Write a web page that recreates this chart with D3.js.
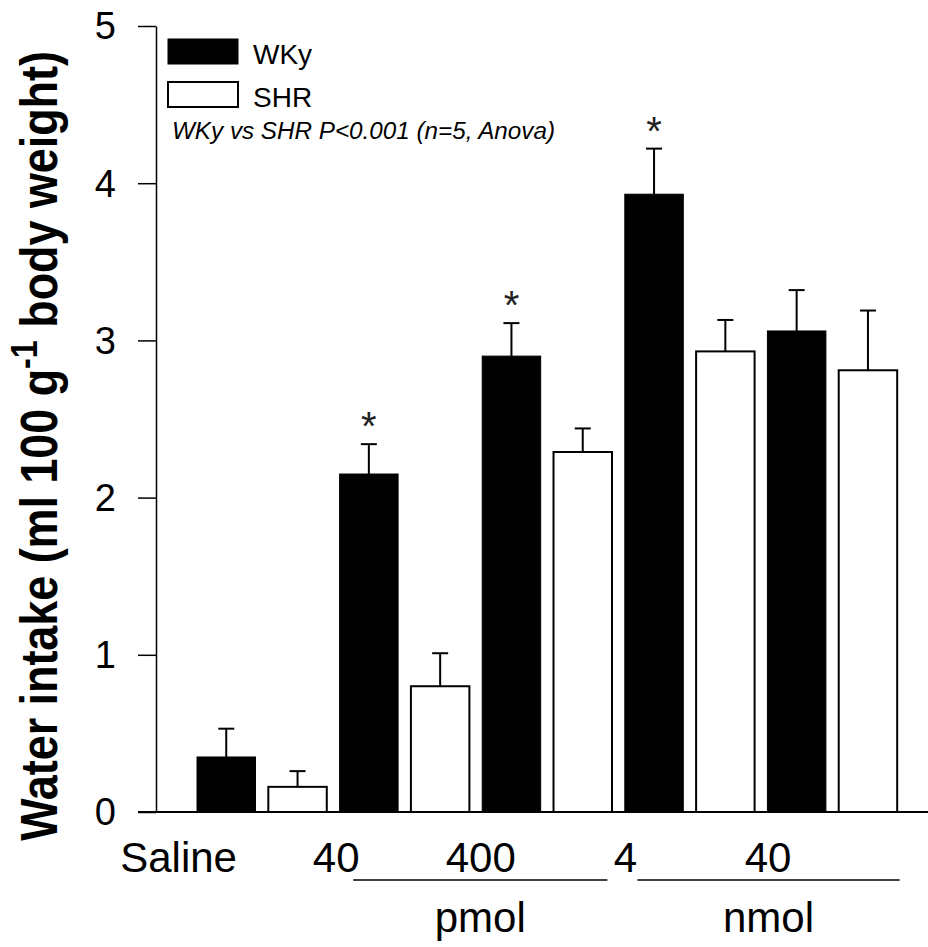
<!DOCTYPE html>
<html>
<head>
<meta charset="utf-8">
<script src="https://cdn.jsdelivr.net/npm/d3@7"></script>
<style>
  html, body { margin: 0; padding: 0; background: #fff; }
  svg { display: block; font-family: "Liberation Sans", Arial, sans-serif; }
</style>
</head>
<body>
<svg id="chart" width="928" height="947"></svg>
<script>
// ---- data ----
const groups = ["Saline", "40 pmol", "400 pmol", "4 nmol", "40 nmol"];
const tickLabels = ["Saline", "40", "400", "4", "40"];
const series = ["WKy", "SHR"];
const wkyMean = [0.35, 2.15, 2.90, 3.93, 3.06];
const wkyErr  = [0.18, 0.19, 0.21, 0.29, 0.26];
const shrMean = [0.16, 0.80, 2.29, 2.93, 2.81];
const shrErr  = [0.10, 0.21, 0.15, 0.20, 0.38];
const wkySignificant = [false, true, true, true, false];
const yTicks = [0, 1, 2, 3, 4, 5];
const unitLabels = ["pmol", "nmol"];
const unitGroupSpans = [[1, 2], [3, 4]];
const legendNote = "WKy vs SHR P<0.001 (n=5, Anova)";

// ---- layout ----
const svg = d3.select("#chart");
const axisX = 156, baseY = 812, topY = 26;

const y = d3.scaleLinear().domain([0, 5]).range([baseY, topY]);
const x0 = d3.scaleBand().domain(groups).range([190.6, 903.6]).padding(0);
const x1 = d3.scaleBand().domain(series).range([0, x0.bandwidth()])
  .paddingInner(0.18).paddingOuter(0.09);
const fillColor = d3.scaleOrdinal().domain(series).range(["#000", "#fff"]);

const rows = [];
groups.forEach((g, i) => {
  rows.push({ g, s: "WKy", v: wkyMean[i], e: wkyErr[i], sig: wkySignificant[i] });
  rows.push({ g, s: "SHR", v: shrMean[i], e: shrErr[i], sig: false });
});

// bars
svg.append("g").selectAll("rect").data(rows).join("rect")
  .attr("x", d => x0(d.g) + x1(d.s))
  .attr("y", d => y(d.v))
  .attr("width", x1.bandwidth())
  .attr("height", d => baseY - y(d.v))
  .attr("fill", d => fillColor(d.s))
  .attr("stroke", "#000")
  .attr("stroke-width", d => d.s === "WKy" ? 1 : 2);

// error bars
const eb = svg.append("g").attr("stroke", "#000").attr("stroke-width", 2);
rows.forEach(d => {
  const cx = x0(d.g) + x1(d.s) + x1.bandwidth() / 2;
  eb.append("line").attr("x1", cx).attr("x2", cx).attr("y1", y(d.v)).attr("y2", y(d.v + d.e));
  eb.append("line").attr("x1", cx - 8).attr("x2", cx + 8).attr("y1", y(d.v + d.e)).attr("y2", y(d.v + d.e));
});

// significance stars
svg.append("g").selectAll("text").data(rows.filter(d => d.sig)).join("text")
  .attr("x", d => x0(d.g) + x1(d.s) + x1.bandwidth() / 2)
  .attr("y", d => y(d.v + d.e) - 4)
  .attr("text-anchor", "middle")
  .attr("font-size", 40)
  .attr("fill", "#222")
  .text("*");

// y axis
const yAxis = d3.axisLeft(y).tickValues(yTicks).tickFormat(d3.format("d"))
  .tickSize(18).tickSizeOuter(0).tickPadding(22);
const ya = svg.append("g").attr("transform", `translate(${axisX},0)`).call(yAxis);
ya.select(".domain").attr("stroke", "#000").attr("stroke-width", 1.5);
ya.selectAll(".tick line").attr("stroke", "#000").attr("stroke-width", 1.5);
ya.selectAll(".tick text").attr("font-size", 38).attr("font-family", "Liberation Sans, Arial, sans-serif")
  .attr("fill", "#000").attr("dy", "0.34em");

// x baseline
svg.append("line").attr("x1", axisX - 18).attr("x2", 928)
  .attr("y1", baseY).attr("y2", baseY).attr("stroke", "#000").attr("stroke-width", 2);

// x tick labels
const labelOffsets = [-12, 3, 5, 7, 7];
svg.append("g").selectAll("text").data(tickLabels).join("text")
  .attr("x", (d, i) => x0(groups[i]) + labelOffsets[i])
  .attr("y", 872)
  .attr("text-anchor", "middle")
  .attr("font-size", 42)
  .attr("fill", "#000")
  .text(d => d);

// unit lines and labels
const lineOffsets = [[20, -11], [19, -4]];
unitLabels.forEach((u, k) => {
  const [a, b] = unitGroupSpans[k];
  const xa = x0(groups[a]) + lineOffsets[k][0];
  const xb = x0(groups[b]) + x0.bandwidth() + lineOffsets[k][1];
  svg.append("line").attr("x1", xa).attr("x2", xb).attr("y1", 880).attr("y2", 880)
    .attr("stroke", "#000").attr("stroke-width", 1.5);
  svg.append("text").attr("x", (xa + xb) / 2).attr("y", 932)
    .attr("text-anchor", "middle").attr("font-size", 42).attr("fill", "#000").text(u);
});

// legend
const legend = svg.append("g");
const legY = [39, 82];
series.forEach((s, i) => {
  legend.append("rect").attr("x", 168).attr("y", legY[i]).attr("width", 70).attr("height", 25)
    .attr("fill", fillColor(s)).attr("stroke", "#000").attr("stroke-width", s === "WKy" ? 1 : 2);
  legend.append("text").attr("x", 253).attr("y", legY[i] + 25).attr("font-size", 28)
    .attr("fill", "#000").text(s);
});
legend.append("text").attr("x", 172).attr("y", 139).attr("font-size", 23)
  .attr("font-style", "italic").attr("fill", "#000")
  .attr("textLength", 383).attr("lengthAdjust", "spacingAndGlyphs")
  .text(legendNote);

// y-axis title
const title = svg.append("text")
  .attr("font-size", 51).attr("font-weight", "bold").attr("fill", "#000")
  .attr("text-anchor", "middle");
title.append("tspan").text("Water intake (ml 100 g");
title.append("tspan").attr("font-size", "0.72em").attr("dy", "-0.55em").text("-1");
title.append("tspan").attr("dy", "0.4em").text(" body weight)");
const len = title.node().getComputedTextLength();
const k = 790 / len;
title.attr("transform", `translate(57,446) rotate(-90) scale(${k},1)`);
</script>
</body>
</html>
